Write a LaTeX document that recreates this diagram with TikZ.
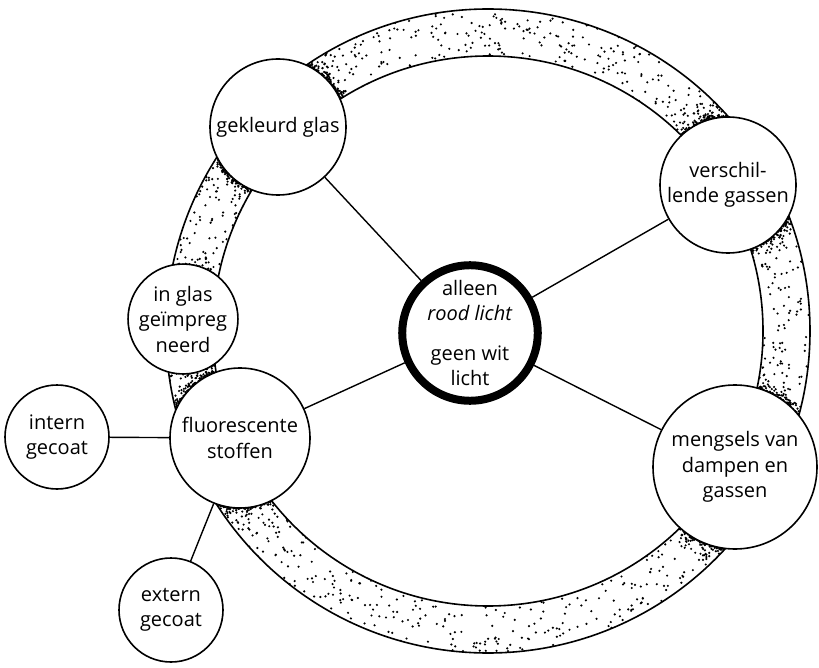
\documentclass[tikz,border=0pt]{standalone}
\usepackage{fontspec}
\setmainfont{Open Sans}
\usetikzlibrary{calc,backgrounds}
\tikzset{
  bol/.style={circle,draw=black,line width=1.6pt,fill=white,align=center,inner sep=0pt},
  kern/.style={circle,draw=black,line width=8pt,fill=white,align=center,inner sep=0pt,minimum size=134pt},
  lijn/.style={line width=1.4pt},
  stip/.style={fill=black}
}
\begin{document}
\begin{tikzpicture}[x=1pt,y=-1pt,font=\fontsize{20}{25.5}\selectfont]
\useasboundingbox (0,0) rectangle (819,668);
\coordinate (ring) at (488,331);
\node[kern] (licht) at (470,333) {alleen\\\textit{rood licht}\\[14pt]geen wit\\licht};
\node[bol,minimum size=136pt] (glas) at (278,127) {gekleurd glas};
\node[bol,minimum size=136pt] (gassen) at (728,185) {verschil-\\lende gassen};
\node[bol,minimum size=100pt] (impreg) at (183,319) {in glas\\geïmpreg\\neerd};
\node[bol,minimum size=140pt] (fluor) at (240,438) {fluorescente\\stoffen};
\node[bol,minimum size=104pt] (intern) at (57,437) {intern\\gecoat};
\node[bol,minimum size=104pt] (extern) at (171,610) {extern\\gecoat};
\node[bol,minimum size=164pt] (mengsels) at (735,467) {mengsels van\\dampen en\\gassen};
\begin{scope}[on background layer]
\begin{scope}[even odd rule]
\clip (ring) circle[radius=322] (ring) circle[radius=275];
\pgfmathsetseed{4711}
\foreach \i in {1,...,1000} {
  \pgfmathsetmacro\hoek{rnd*360}
  \pgfmathsetmacro\straal{275+rnd*47}
  \fill[stip] ($(ring)+(\hoek:\straal)$) circle[radius=1.2];
}
\foreach \c/\r in {glas/68,gassen/68,impreg/50,fluor/70,mengsels/82} {
  \foreach \i in {1,...,900} {
    \pgfmathsetmacro\hoek{rnd*360}
    \pgfmathsetmacro\straal{\r+55*rnd*rnd*rnd*rnd}
    \fill[stip] ($(\c)+(\hoek:\straal)$) circle[radius=1.2];
  }
}
\end{scope}
\draw[line width=1.6pt] (ring) circle[radius=322];
\draw[line width=1.6pt] (ring) circle[radius=275];
\end{scope}
\draw[lijn] (licht) -- (glas);
\draw[lijn] (licht) -- (gassen);
\draw[lijn] (licht) -- (mengsels);
\draw[lijn] (licht) -- (fluor);
\draw[lijn] (fluor) -- (intern);
\draw[lijn] (fluor) -- (extern);
\end{tikzpicture}
\end{document}
